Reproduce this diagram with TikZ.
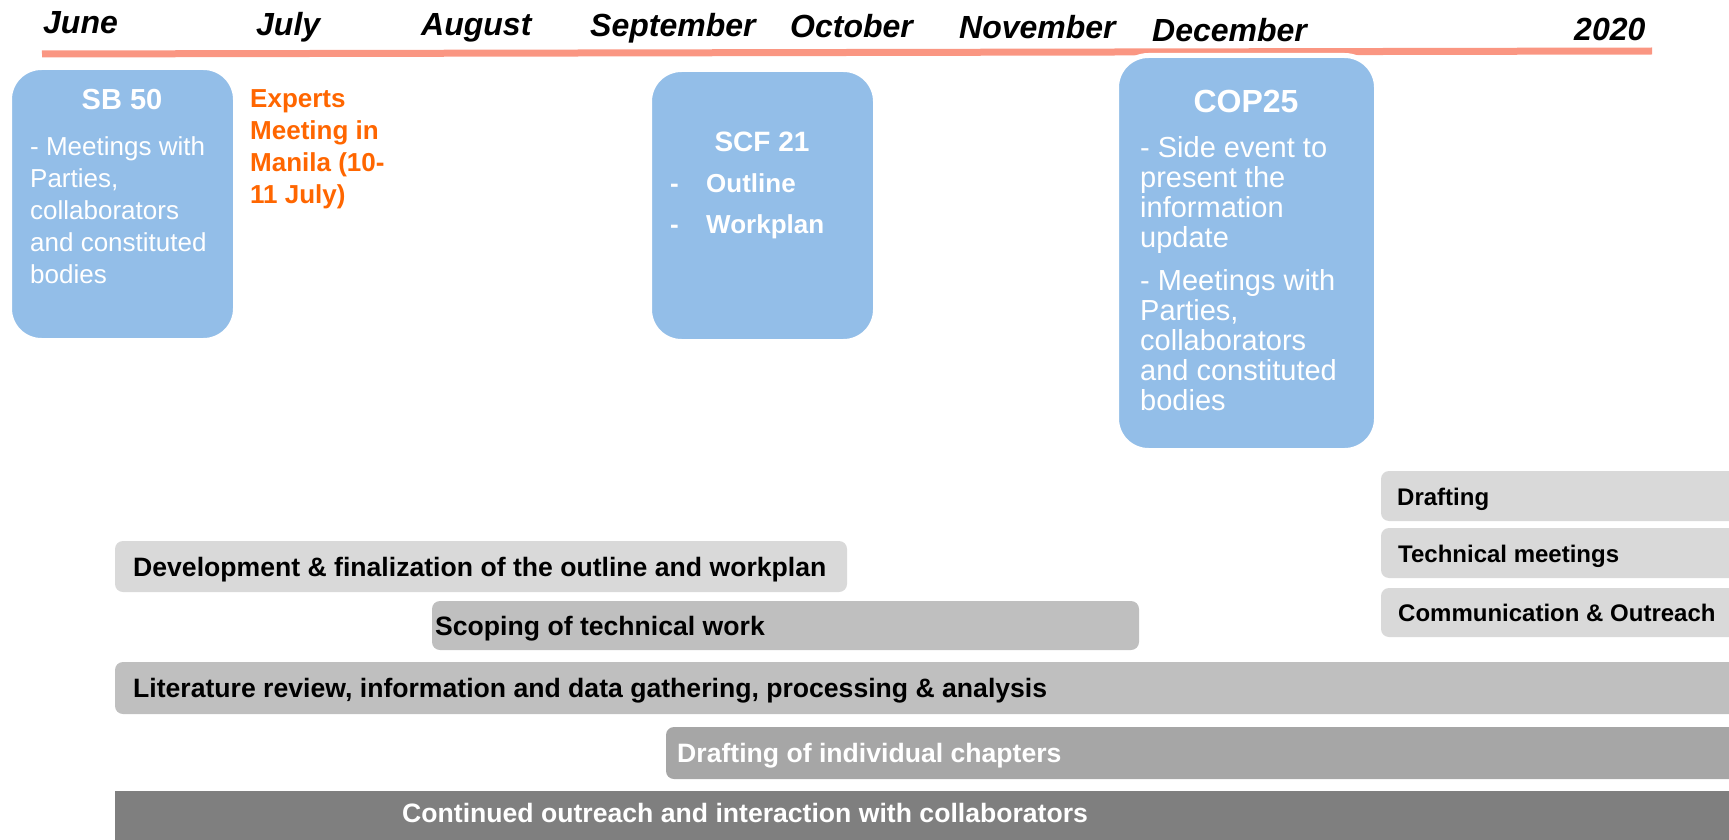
\documentclass[tikz,border=0pt]{standalone}
\usepackage{fontspec}
\setmainfont{Liberation Sans}
\definecolor{salmon}{RGB}{250,150,130}
\definecolor{boxblue}{RGB}{147,190,232}
\definecolor{orangetxt}{RGB}{255,102,0}
\definecolor{gA}{RGB}{217,217,217}
\definecolor{gB}{RGB}{191,191,191}
\definecolor{gC}{RGB}{166,166,166}
\definecolor{gD}{RGB}{127,127,127}
\begin{document}
\begin{tikzpicture}[x=1pt,y=-1pt,
  month/.style={font=\fontsize{32}{38}\selectfont\bfseries\itshape, anchor=base west, inner sep=0pt},
  evbox/.style={fill=boxblue, draw=white, line width=5pt, rounded corners=32pt},
  evtitle/.style={text=white, anchor=base, inner sep=0pt},
  evbody/.style={text=white, anchor=base west, inner sep=0pt, align=left},
  gbar/.style={rounded corners=8pt},
  bartext/.style={font=\fontsize{26.6}{31}\selectfont\bfseries, anchor=base west, inner sep=0pt},
  sidetext/.style={font=\fontsize{24}{28}\selectfont\bfseries, anchor=base west, inner sep=0pt}
]
\useasboundingbox (0,0) rectangle (1729,840);
\clip (0,0) rectangle (1729,840);

% timeline
\draw[salmon, line width=7pt] (42,54) coordinate (l1) -- (1652,51) coordinate (l2);
\node[month] (jun) at (43,34) {June};
\node[month] (jul) at (256,36) {July};
\node[month] (aug) at (421,36) {August};
\node[month] (sep) at (590,37) {September};
\node[month] (oct) at (790,38) {October};
\node[month] (nov) at (959,39) {November};
\node[month] (dec) at (1152,42) {December};
\node[month] (yr) at (1574,41) {2020};

% SB 50  (multi-line nodes are anchored at the baseline of their last line)
\draw[evbox] (9.5,67.5) rectangle (235.5,340.5);
\node[evtitle, font=\fontsize{29}{34}\selectfont\bfseries] (sbt) at (122,110) {SB 50};
\node[evbody, font=\fontsize{26}{32}\selectfont] (sbb) at (30,283)
  {- Meetings with\\Parties,\\collaborators\\and constituted\\bodies};

% Experts meeting
\node[anchor=base west, inner sep=0pt, align=left, text=orangetxt,
  font=\fontsize{26}{32}\selectfont\bfseries] (exp) at (250,203)
  {Experts\\Meeting in\\Manila (10-\\11 July)};

% SCF 21
\draw[evbox] (649.5,69.5) rectangle (875.5,341.5);
\node[evtitle, font=\fontsize{28}{34}\selectfont\bfseries] (scft) at (762,151) {SCF 21};
\node[evbody, font=\fontsize{26}{41}\selectfont\bfseries] (scfb) at (670,233)
  {\makebox[36pt][l]{-}Outline\\\makebox[36pt][l]{-}Workplan};

% COP25
\draw[evbox] (1116.5,55.5) rectangle (1376.5,450.5);
\node[evtitle, font=\fontsize{32}{38}\selectfont\bfseries] (copt) at (1246,113) {COP25};
\node[evbody, font=\fontsize{29}{30}\selectfont] (copb) at (1140,410)
  {- Side event to\\present the\\information\\update\\[13pt]- Meetings with\\Parties,\\collaborators\\and constituted\\bodies};

% right-hand bars
\fill[gbar, gA] (1381,471) rectangle (1760,521);
\node[sidetext] (r1) at (1397,505) {Drafting};
\fill[gbar, gA] (1381,528) rectangle (1760,578);
\node[sidetext] (r2) at (1398,562) {Technical meetings};
\fill[gbar, gA] (1381,588) rectangle (1760,637);
\node[sidetext] (r3) at (1398,621) {Communication \& Outreach};

% main bars
\fill[gbar, gA] (115,541) rectangle (847,592);
\node[bartext] (b1) at (133,576) {Development \& finalization of the outline and workplan};
\fill[gbar, gB] (432,601) rectangle (1139,650);
\node[bartext] (b2) at (435,635) {Scoping of technical work};
\fill[gbar, gB] (115,662) rectangle (1760,714);
\node[bartext] (b3) at (133,697) {Literature review, information and data gathering, processing \& analysis};
\fill[gbar, gC] (666,727) rectangle (1760,779);
\node[bartext, text=white] (b4) at (677,762) {Drafting of individual chapters};
\fill[gD] (115,791) rectangle (1760,850);
\node[bartext, text=white] (b5) at (402,822) {Continued outreach and interaction with collaborators};
\end{tikzpicture}
\end{document}
